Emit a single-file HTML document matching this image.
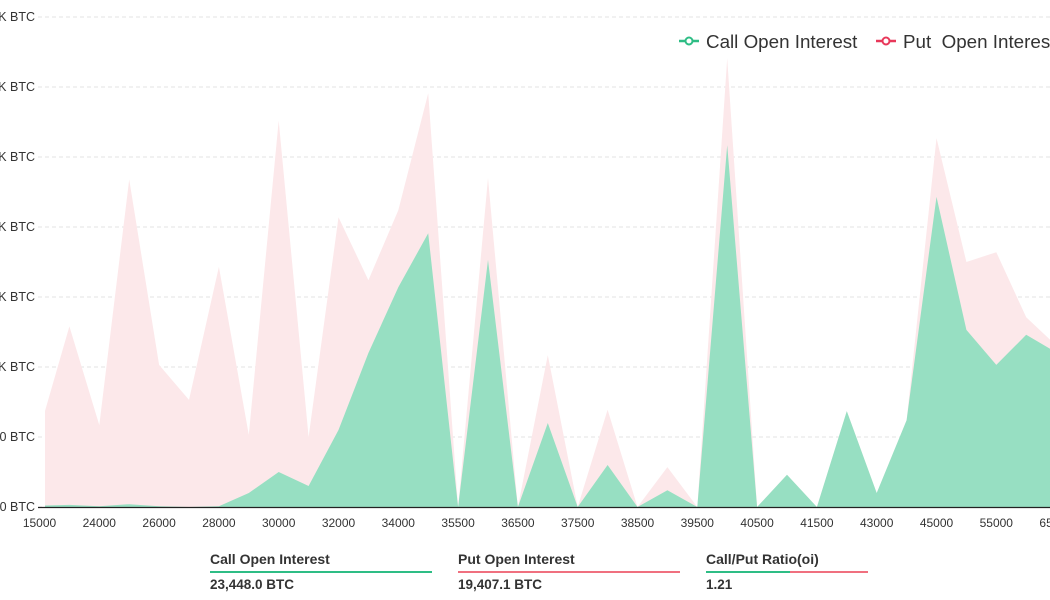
<!DOCTYPE html>
<html><head><meta charset="utf-8"><style>
html,body{margin:0;padding:0;background:#fff;width:1050px;height:600px;overflow:hidden;font-family:"Liberation Sans",sans-serif}
svg{position:absolute;left:0;top:0}
.sum{position:absolute;top:551px;font-weight:bold;color:#333}
.sum .t{font-size:14px;height:18px}
.sum .l{height:2px;margin:2px 0 4px}
.sum .v{font-size:13.5px}
</style></head><body>
<svg id="chart" width="1050" height="600"></svg>
<div class="sum" style="left:210px;width:222px"><div class="t">Call Open Interest</div><div class="l" style="background:#2ebd85"></div><div class="v">23,448.0 BTC</div></div>
<div class="sum" style="left:458px;width:222px"><div class="t">Put Open Interest</div><div class="l" style="background:#f0707f"></div><div class="v">19,407.1 BTC</div></div>
<div class="sum" style="left:706px;width:162px"><div class="t">Call/Put Ratio(oi)</div><div class="l" style="background:linear-gradient(90deg,#2ebd85 0 52%,#f0707f 52% 100%)"></div><div class="v">1.21</div></div>
<script>
const categories=["15000","20000","24000","25000","26000","27000","28000","29000","30000","31000","32000","33000","34000","35000","35500","36000","36500","37000","37500","38000","38500","39000","39500","40000","40500","41000","41500","42000","43000","44000","45000","50000","55000","60000","65000"];
const callValues=[10,15,5,20,5,0,5,100,250,150,550,1100,1570,1955,0,1765,0,600,0,300,0,120,0,2585,0,230,0,685,100,620,2215,1265,1015,1230,1105];
const putValues=[550,1290,585,2340,1015,765,1715,515,2760,500,2070,1620,2120,2955,0,2350,0,1085,0,695,0,285,0,3205,0,230,0,685,100,620,2635,1750,1820,1355,1155];
const yTicks=[0,500,1000,1500,2000,2500,3000,3500];
const yTickLabels=["0 BTC","500 BTC","1K BTC","1.5K BTC","2K BTC","2.5K BTC","3K BTC","3.5K BTC"];

const NS="http://www.w3.org/2000/svg";
const svg=document.getElementById('chart');
const X0=39.5,STEP=29.9,GL=45,GR=1050,Y0=507,YPX=70/500;
const xs=i=>X0+STEP*i;
const ys=v=>Y0-v*YPX;
function mk(t,a){const e=document.createElementNS(NS,t);for(const k in a)e.setAttribute(k,a[k]);return e;}
const defs=mk('defs',{});const cp=mk('clipPath',{id:'c'});cp.appendChild(mk('rect',{x:GL,y:0,width:GR-GL,height:Y0}));defs.appendChild(cp);svg.appendChild(defs);

yTicks.forEach((v,i)=>{
  const g=mk('line',{x1:38,x2:1050,y1:ys(v),y2:ys(v),stroke:'#e3e3e3','stroke-dasharray':'4 3'});
  
  
  svg.appendChild(g);
  const t=mk('text',{x:35,y:ys(v)+4,'text-anchor':'end','font-size':'12.5',fill:'#333'});
  t.textContent=yTickLabels[i];
  
  
  svg.appendChild(t);
});

const gArea=mk('g',{'clip-path':'url(#c)'});svg.appendChild(gArea);
function area(vals,fill,name){
  let d='M'+xs(0)+','+Y0;
  vals.forEach((v,i)=>{d+=' L'+xs(i).toFixed(1)+','+ys(v).toFixed(1);});
  d+=' L'+xs(vals.length-1)+','+Y0+' Z';
  const p=mk('path',{d:d,fill:fill});
  
  
  gArea.appendChild(p);
}
area(putValues,'#fce8ea','put-area');
area(callValues,'#97dfc2','call-area');

const ax=mk('line',{x1:38,x2:1050,y1:Y0+0.5,y2:Y0+0.5,stroke:'#222','stroke-width':1.2});


svg.appendChild(ax);
categories.forEach((c,i)=>{
  if(i%2)return;
  const t=mk('text',{x:xs(i),y:527,'text-anchor':'middle','font-size':'12',fill:'#333'});
  t.textContent=c;
  
  
  svg.appendChild(t);
});

function legend(x,color,label,name){
  const g=mk('g',{});
  
  
  g.appendChild(mk('line',{x1:x,x2:x+20,y1:41,y2:41,stroke:color,'stroke-width':2.5}));
  g.appendChild(mk('circle',{cx:x+10,cy:41,r:3.5,fill:'#fff',stroke:color,'stroke-width':2}));
  const t=mk('text',{x:x+27,y:48,'font-size':'18.8',fill:'#333'});t.textContent=label;
  g.appendChild(t);svg.appendChild(g);
}
legend(679,'#2ebd85','Call Open Interest','legend-call');
legend(876,'#e8385a','Put\u00a0 Open Interest','legend-put');
</script>
</body></html>
